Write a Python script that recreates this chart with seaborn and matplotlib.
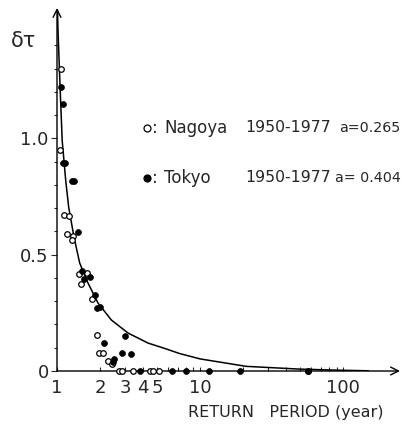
import matplotlib
matplotlib.use("Agg")
import matplotlib.pyplot as plt
import seaborn as sns
import pandas as pd
from matplotlib.ticker import FixedLocator, NullFormatter

# ---- data ----
nagoya_T = [1.066, 1.056, 1.125, 1.22, 1.18, 1.30, 1.27, 1.42, 1.61, 1.46, 1.75,
            1.89, 1.97, 2.11, 2.28, 2.41, 2.73, 2.86, 3.38, 4.47, 4.66, 5.18, 57]
nagoya_d = [1.30, 0.951, 0.672, 0.668, 0.587, 0.579, 0.565, 0.415, 0.42, 0.372, 0.31,
            0.153, 0.076, 0.076, 0.044, 0.03, 0, 0, 0, 0, 0, 0, 0]

tokyo_T = [1.066, 1.095, 1.10, 1.14, 1.27, 1.31, 1.40, 1.49, 1.54, 1.70, 1.83, 1.89,
           2.0, 2.14, 3.0, 2.86, 3.29, 2.52, 2.45, 3.8, 6.34, 7.97, 11.5, 19, 57]
tokyo_d = [1.22, 1.147, 0.896, 0.896, 0.817, 0.817, 0.597, 0.43, 0.394, 0.405, 0.326,
           0.272, 0.273, 0.121, 0.152, 0.079, 0.073, 0.05, 0.04, 0, 0, 0, 0, 0, 0]

curve_T = [1.008, 1.016, 1.053, 1.087, 1.15, 1.207, 1.315, 1.441, 1.647, 1.935, 2.40,
           3.14, 4.33, 5.66, 7.2, 10, 21, 50, 100, 150]
curve_d = [1.55, 1.464, 1.206, 0.991, 0.820, 0.704, 0.575, 0.464, 0.378, 0.292, 0.219,
           0.163, 0.120, 0.097, 0.075, 0.052, 0.02, 0.008, 0.003, 0.001]

xticks = [1, 2, 3, 4, 5, 10, 100]
xticklabels = ["1", "2", "3", "4", "5", "10", "100"]
yticks = [0, 0.5, 1.0]
yticklabels = ["0", "0.5", "1.0"]

sns.set_style("white")
plt.rcParams["font.family"] = ["DejaVu Sans"]

fig = plt.figure(figsize=(4.05, 4.28), dpi=100)
ax = fig.add_axes([57 / 405, 57 / 428, 343 / 405, 363 / 428])

cdf = pd.DataFrame({"T": curve_T, "d": curve_d})
sns.lineplot(data=cdf, x="T", y="d", ax=ax, color="black", lw=1.1, sort=False)

ndf = pd.DataFrame({"T": nagoya_T, "d": nagoya_d})
tdf = pd.DataFrame({"T": tokyo_T, "d": tokyo_d})
sns.scatterplot(data=ndf, x="T", y="d", ax=ax, marker="o", s=16,
                facecolor="white", edgecolor="black", linewidth=0.9, clip_on=False, zorder=4)
sns.scatterplot(data=tdf, x="T", y="d", ax=ax, marker="o", s=18,
                color="black", edgecolor="black", linewidth=0.5, clip_on=False, zorder=5)

ax.set_xscale("log")
ax.set_xlim(1, 250)
ax.set_ylim(0, 1.56)

for s in ax.spines.values():
    s.set_visible(False)
ax.annotate("", xy=(1.0, 0), xytext=(0, 0), xycoords="axes fraction",
            arrowprops=dict(arrowstyle="->", lw=1.0, color="black", shrinkA=0, shrinkB=0,
                            mutation_scale=14))
ax.annotate("", xy=(0, 1.0), xytext=(0, 0), xycoords="axes fraction",
            arrowprops=dict(arrowstyle="->", lw=1.0, color="black", shrinkA=0, shrinkB=0,
                            mutation_scale=14))

ax.xaxis.set_major_locator(FixedLocator(xticks))
ax.set_xticklabels(xticklabels)
ax.xaxis.set_minor_locator(FixedLocator([6, 7, 8, 9, 20, 30, 40, 50, 60, 70, 80, 90]))
ax.xaxis.set_minor_formatter(NullFormatter())
ax.set_yticks(yticks)
ax.set_yticklabels(yticklabels)
ax.yaxis.set_minor_locator(FixedLocator([0.1, 0.2, 0.3, 0.4, 0.6, 0.7, 0.8, 0.9, 1.1, 1.2, 1.3, 1.4]))
ax.tick_params(axis="x", which="both", direction="in", length=3, width=0.8,
               labelsize=13, pad=6, bottom=True)
ax.tick_params(axis="y", which="major", direction="out", length=4, width=0.8,
               labelsize=13, pad=2, left=True)
ax.tick_params(axis="y", which="minor", direction="out", length=2.5, width=0.8, left=True)
ax.set_xlabel("")
ax.set_ylabel("")

fig.text(23 / 405, 1 - 41 / 428, "δτ", fontsize=15, ha="center", va="center")
fig.text(286 / 405, 1 - 413 / 428, "RETURN   PERIOD (year)", fontsize=11.5,
         ha="center", va="center")

# legend block
rows = [(128, "white", "Nagoya", "a=0.265", 339), (178, "black", "Tokyo", "a= 0.404", 335)]
for ypix, fc, name, aval, ax_x in rows:
    yf = 1 - ypix / 428
    fig.add_artist(plt.Line2D([147 / 405], [yf], marker="o", markersize=5,
                              markerfacecolor=fc, markeredgecolor="black",
                              markeredgewidth=0.9, linestyle="none",
                              transform=fig.transFigure))
    fig.text(152 / 405, yf, ":", fontsize=12, ha="left", va="center")
    fig.text(164 / 405, yf, name, fontsize=12, ha="left", va="center")
    fig.text(245 / 405, yf, "1950-1977", fontsize=11.3, ha="left", va="center")
    fig.text(ax_x / 405, yf, aval, fontsize=10.3, ha="left", va="center")

fig.savefig("out.png", dpi=100)
